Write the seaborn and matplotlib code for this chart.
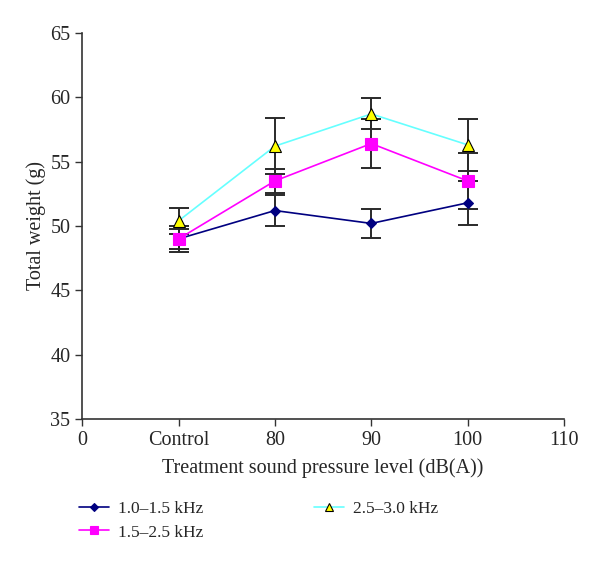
import numpy as np
import pandas as pd
import matplotlib
matplotlib.use('Agg')
import matplotlib.pyplot as plt
import seaborn as sns

# values
levels = ['Control', '80', '90', '100']
tick_labels = ['0', 'Control', '80', '90', '100', '110']
bands = ['1.0\u20131.5 kHz', '1.5\u20132.5 kHz', '2.5\u20133.0 kHz']
w_low = [49.0, 51.2, 50.2, 51.8]
w_mid = [49.0, 53.5, 56.4, 53.5]
w_high = [50.4, 56.2, 58.7, 56.3]
err_low = [1.0, 1.2, 1.1, 1.7]
err_mid = [0.8, 0.95, 1.9, 2.2]
err_high = [1.0, 2.2, 1.2, 2.0]

rows = []
for band, vals, errs in zip(bands, [w_low, w_mid, w_high], [err_low, err_mid, err_high]):
    for i, (lv, v, e) in enumerate(zip(levels, vals, errs)):
        rows.append({'band': band, 'level': lv, 'pos': i + 1, 'weight': v, 'err': e})
df = pd.DataFrame(rows)

sns.set_style('ticks')
plt.rcParams['font.family'] = ['Liberation Serif', 'DejaVu Serif']

fig = plt.figure(figsize=(6, 5.65), dpi=100)
ax = fig.add_axes([0.137, 0.258, 0.803, 0.684])

styles = {
    bands[0]: dict(color='#000080', marker='D', ms=5, mfc='#000080', mec='#000080'),
    bands[1]: dict(color='#ff00ff', marker='s', ms=8, mfc='#ff00ff', mec='#ff00ff'),
    bands[2]: dict(color='#66ffff', marker='^', ms=8, mfc='#ffff00', mec='black'),
}

# error bars first so the markers sit on top
for band in bands:
    d = df[df['band'] == band]
    ax.errorbar(d['pos'], d['weight'], yerr=d['err'], fmt='none', ecolor='#2a2a2a',
                elinewidth=1.4, capsize=7, capthick=1.4, zorder=2)

for band in bands:
    d = df[df['band'] == band]
    st = styles[band]
    sns.lineplot(data=d, x='pos', y='weight', ax=ax, color=st['color'], marker=st['marker'],
                 markersize=st['ms'], markerfacecolor=st['mfc'], markeredgecolor=st['mec'],
                 markeredgewidth=0.8, linewidth=1.2, label=band, zorder=3)

ax.set_xlim(0, 5)
ax.set_ylim(35, 65)
ax.set_xticks(range(6))
ax.set_xticklabels(tick_labels)
ax.set_yticks(np.arange(35, 66, 5))
ax.tick_params(labelsize=14.5, length=5, width=1, color='#333333')
for sp in ['top', 'right']:
    ax.spines[sp].set_visible(False)
for sp in ['left', 'bottom']:
    ax.spines[sp].set_color('#333333')
    ax.spines[sp].set_linewidth(1.2)

ax.set_xlabel('Treatment sound pressure level (dB(A))', fontsize=14.5, labelpad=6)
ax.set_ylabel('Total weight (g)', fontsize=14.5, labelpad=3)

ax.legend(loc='upper left', bbox_to_anchor=(-0.04, -0.172), ncol=2, frameon=False,
          fontsize=12.5, handlelength=1.75, handletextpad=0.5, columnspacing=6.4,
          labelspacing=0.4, markerscale=0.8)

fig.savefig('out.png', dpi=100)
